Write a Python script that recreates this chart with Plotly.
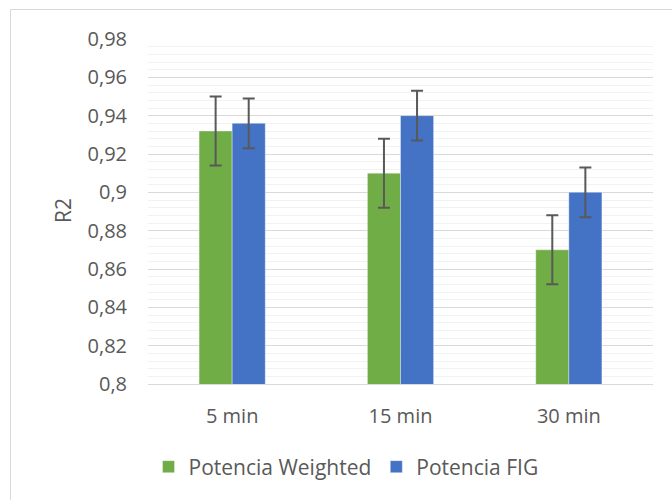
import plotly.graph_objects as go

categories = ["5 min", "15 min", "30 min"]
weighted = [0.932, 0.910, 0.870]
weighted_err = [0.018, 0.018, 0.018]
fig_vals = [0.936, 0.940, 0.900]
fig_err = [0.013, 0.013, 0.013]
ytick_vals = [0.80, 0.82, 0.84, 0.86, 0.88, 0.90, 0.92, 0.94, 0.96, 0.98]
ytick_text = ["0,8", "0,82", "0,84", "0,86", "0,88", "0,9", "0,92", "0,94", "0,96", "0,98"]

W, H = 672, 500
L, R, T, B = 148, 19, 39, 116
pw, ph = W - L - R, H - T - B

font = "Open Sans, Liberation Sans, sans-serif"
txt = "#595959"

err_style = dict(type="data", visible=True, color="#595959", thickness=2, width=6)

fig = go.Figure()
fig.add_trace(go.Bar(
    name="Potencia Weighted", x=categories, y=weighted,
    marker=dict(color="#70AD47", line=dict(color="rgba(255,255,255,0.35)", width=1)),
    error_y=dict(array=weighted_err, **err_style),
))
fig.add_trace(go.Bar(
    name="Potencia FIG", x=categories, y=fig_vals,
    marker=dict(color="#4472C4", line=dict(color="rgba(255,255,255,0.35)", width=1)),
    error_y=dict(array=fig_err, **err_style),
))

fig.update_layout(
    width=W, height=H,
    margin=dict(l=L, r=R, t=T, b=B, pad=0),
    paper_bgcolor="white", plot_bgcolor="white",
    barmode="group", bargap=0.607, bargroupgap=0,
    font=dict(family=font, size=20, color=txt),
    showlegend=True,
    legend=dict(orientation="h", x=(346 - L) / pw, xanchor="center",
                y=(T + ph - 467) / ph, yanchor="middle",
                font=dict(size=21, color=txt), itemwidth=30,
                bgcolor="rgba(0,0,0,0)"),
    xaxis=dict(showgrid=False, showline=True, linecolor="#D9D9D9", linewidth=1,
               ticks="outside", ticklen=0, tickcolor="rgba(0,0,0,0)",
               ticklabelstandoff=14, tickfont=dict(size=20, color=txt)),
    yaxis=dict(range=[0.8, 0.98], tickvals=ytick_vals, ticktext=ytick_text,
               showgrid=True, gridcolor="#D9D9D9", gridwidth=1,
               zeroline=False, showline=False,
               ticklabelstandoff=20, tickfont=dict(size=20, color=txt),
               minor=dict(dtick=0.004, tick0=0.8, showgrid=True, gridcolor="#F2F2F2", gridwidth=1)),
)

fig.add_annotation(text="R2", xref="paper", yref="paper",
                   x=(63 - L) / pw, y=(T + ph - 211) / ph,
                   textangle=-90, showarrow=False,
                   font=dict(size=21, color=txt, family=font),
                   xanchor="center", yanchor="middle")

fig.add_shape(type="rect", xref="paper", yref="paper",
              x0=(10.5 - L) / pw, x1=(W + 10 - L) / pw,
              y0=(T + ph - (H + 10)) / ph, y1=(T + ph - 9.5) / ph,
              line=dict(color="#D9D9D9", width=1), fillcolor="rgba(0,0,0,0)", layer="below")

fig.write_html("out.html", config={"displayModeBar": False},
               post_script="document.body.style.margin='0';document.body.style.overflow='hidden';")
